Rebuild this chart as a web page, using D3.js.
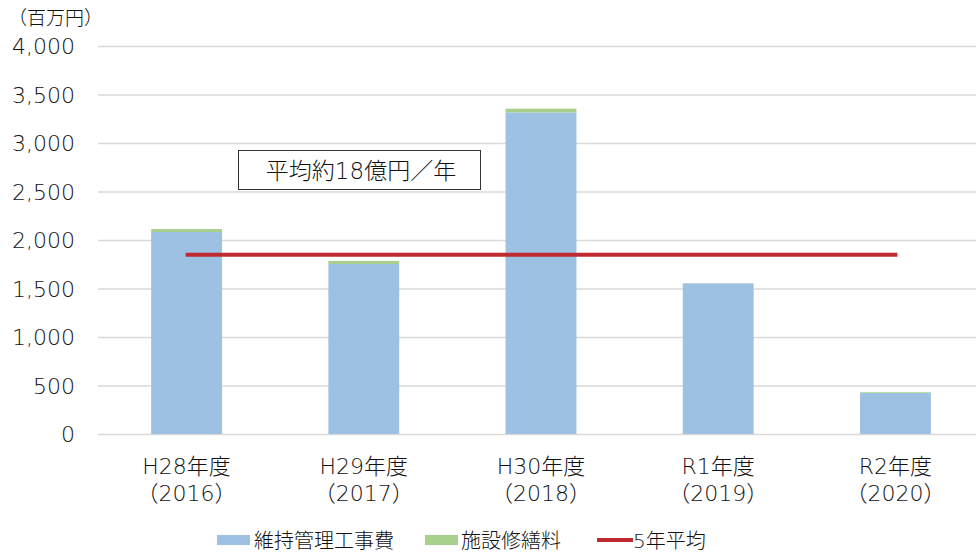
<!DOCTYPE html>
<html>
<head>
<meta charset="utf-8">
<script src="https://cdn.jsdelivr.net/npm/d3@7"></script>
<style>
  body { margin: 0; background: #fff; }
  svg { display: block; font-family: "DejaVu Sans", "Noto Sans CJK JP", sans-serif; font-weight: 300; }
  text { fill: #111; }
</style>
</head>
<body>
<svg id="chart" width="976" height="558"></svg>
<script>
var years = ["H28年度", "H29年度", "H30年度", "R1年度", "R2年度"]
var yearsWestern = ["（2016）", "（2017）", "（2018）", "（2019）", "（2020）"]
var maintenance = [2082, 1753, 3316, 1553, 422]   // 維持管理工事費
var repair = [31, 31, 38, 2, 8]                   // 施設修繕料
var average = 1847                                // 5年平均
var yTicks = [0, 500, 1000, 1500, 2000, 2500, 3000, 3500, 4000]

var svg = d3.select("#chart")

var x = d3.scaleBand()
    .domain(years)
    .range([98, 984])
    .paddingInner(0.6)
    .paddingOuter(0.3)

var y = d3.scaleLinear()
    .domain([0, 4000])
    .range([434, 46])

// grid
svg.append("g")
    .selectAll("line")
    .data(yTicks)
    .enter()
    .append("line")
    .attr("x1", 98)
    .attr("x2", 976)
    .attr("y1", d => y(d) + 0.5)
    .attr("y2", d => y(d) + 0.5)
    .attr("stroke", "#d9d9d9")
    .attr("stroke-width", 1.3)

// y labels
svg.append("g")
    .selectAll("text")
    .data(yTicks)
    .enter()
    .append("text")
    .attr("x", 75)
    .attr("y", d => y(d) + 8)
    .attr("text-anchor", "end")
    .style("font-size", "22px")
    .text(d => d3.format(",")(d))

svg.append("text")
    .attr("x", 8)
    .attr("y", 25)
    .style("font-size", "19px")
    .text("（百万円）")

// bars
var bars = svg.append("g")
bars.selectAll("rect.m")
    .data(maintenance)
    .enter()
    .append("rect")
    .attr("class", "m")
    .attr("x", (d, i) => x(years[i]))
    .attr("width", x.bandwidth())
    .attr("y", d => y(d))
    .attr("height", d => y(0) - y(d))
    .attr("fill", "#9dc1e3")

bars.selectAll("rect.r")
    .data(repair)
    .enter()
    .append("rect")
    .attr("class", "r")
    .attr("x", (d, i) => x(years[i]))
    .attr("width", x.bandwidth())
    .attr("y", (d, i) => y(maintenance[i] + d))
    .attr("height", (d, i) => y(maintenance[i]) - y(maintenance[i] + d))
    .attr("fill", "#a8d08d")

// average line
svg.append("line")
    .attr("x1", x(years[0]) + x.bandwidth() / 2 - 1)
    .attr("x2", x(years[4]) + x.bandwidth() / 2 + 2)
    .attr("y1", y(average))
    .attr("y2", y(average))
    .attr("stroke", "#be2a2f")
    .attr("stroke-width", 4)

// x labels
var xl = svg.append("g")
years.forEach(function (d, i) {
    var cx = x(d) + x.bandwidth() / 2
    xl.append("text")
        .attr("x", cx)
        .attr("y", 474)
        .attr("text-anchor", "middle")
        .style("font-size", "22px")
        .text(d)
    xl.append("text")
        .attr("x", cx)
        .attr("y", 501)
        .attr("text-anchor", "middle")
        .style("font-size", "22px")
        .text(yearsWestern[i])
})

// annotation box
svg.append("rect")
    .attr("x", 238.5)
    .attr("y", 150.5)
    .attr("width", 242)
    .attr("height", 39)
    .attr("fill", "#fff")
    .attr("stroke", "#333")
    .attr("stroke-width", 1)
svg.append("text")
    .attr("x", 361)
    .attr("y", 179)
    .attr("text-anchor", "middle")
    .style("font-size", "23px")
    .text("平均約18億円／年")

// legend
var legend = svg.append("g")
legend.append("rect").attr("x", 217).attr("y", 535).attr("width", 33).attr("height", 10).attr("fill", "#9dc1e3")
legend.append("text").attr("x", 254).attr("y", 548).style("font-size", "20px").text("維持管理工事費")
legend.append("rect").attr("x", 425).attr("y", 535).attr("width", 33).attr("height", 10).attr("fill", "#a8d08d")
legend.append("text").attr("x", 461).attr("y", 548).style("font-size", "20px").text("施設修繕料")
legend.append("line").attr("x1", 597).attr("x2", 633).attr("y1", 540).attr("y2", 540).attr("stroke", "#be2a2f").attr("stroke-width", 4)
legend.append("text").attr("x", 633).attr("y", 548).style("font-size", "20px").text("5年平均")
</script>
</body>
</html>
